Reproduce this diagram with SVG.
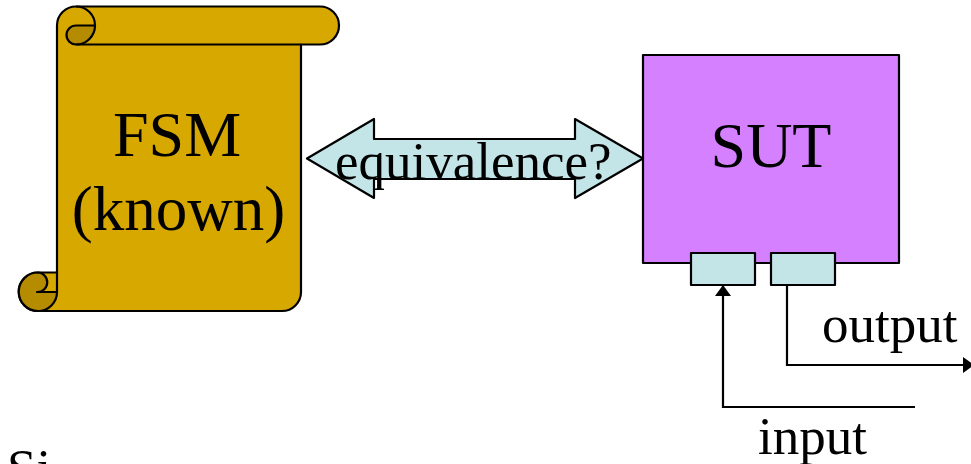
<svg xmlns="http://www.w3.org/2000/svg" width="971" height="464" viewBox="0 0 971 464">
<style>
text{font-family:"Liberation Serif","Times New Roman",serif;fill:#000}
.big{font-size:64px;text-anchor:middle}
.mid{font-size:53px}
.s{stroke:#000;stroke-width:2.200;stroke-linejoin:round}
.gold{fill:#D7A800}.dark{fill:#B58C00}.cyan{fill:#C4E5E8}
.line{fill:none;stroke:#000;stroke-width:2.200}
</style>
<defs>
<marker id="head" markerUnits="userSpaceOnUse" markerWidth="12" markerHeight="16" refX="11" refY="8" orient="auto"><path d="M0 0L11 8L0 16Z" fill="#000"/></marker>
</defs>
<g id="fsm">
<path class="s gold" d="M57 25.500A19 19 0 0 1 76 6.500H320A19 19 0 0 1 320 44.500H301V292A19 19 0 0 1 282 311H38A19.250 19.250 0 0 1 38 272.500H57Z"/>
<path class="s dark" d="M76 44.500A9.500 9.500 0 0 1 76 25.500H95A19 19 0 0 1 76 44.500Z"/>
<path class="line" d="M76 6.500A19 19 0 0 1 95 25.500M76 44.500H301"/>
<path class="s dark" d="M38 272.500A19.250 19.250 0 0 0 38 311A19 19 0 0 0 57 292H37A9.750 9.750 0 0 0 38 272.500Z"/>
<path class="line" d="M57 272.500V292"/>
<text class="big" x="177" y="156">FSM</text>
<text class="big" x="178.500" y="230" style="font-size:63px">(known)</text>
</g>
<g id="equivalence">
<polygon class="s cyan" points="307,158.500 374,119 374,139 575,139 575,119 643,158.500 575,198 575,179 374,179 374,198"/>
<text class="mid" x="335" y="179">equivalence?</text>
</g>
<g id="sut">
<rect class="s" x="643" y="55" width="256" height="208" fill="#D580FF"/>
<text class="big" x="771" y="167">SUT</text>
</g>
<g id="port-in"><rect class="s cyan" x="691" y="253" width="64" height="32"/></g>
<g id="port-out"><rect class="s cyan" x="771" y="253" width="64" height="32"/></g>
<g id="connectors">
<path class="line" d="M915 407H723V285" marker-end="url(#head)"/>
<path class="line" d="M787 285V365H974" marker-end="url(#head)"/>
</g>
<g id="labels">
<text class="mid" x="822" y="342">output</text>
<text class="mid" x="758" y="454">input</text>
<text class="mid" x="7" y="486">Si</text>
</g>
</svg>
